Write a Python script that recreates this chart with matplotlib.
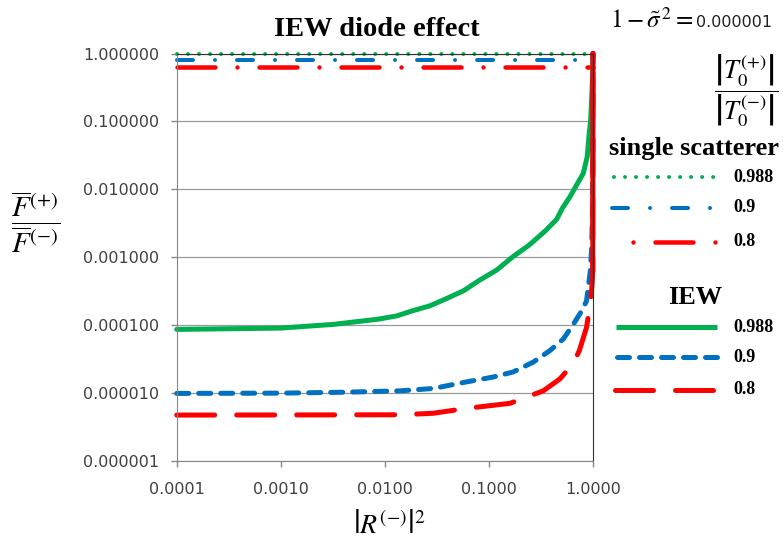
import numpy as np
import matplotlib
matplotlib.use('Agg')
import matplotlib.pyplot as plt
from matplotlib.lines import Line2D

# Axis ticks and labels
r2_ticks = [0.0001, 0.001, 0.01, 0.1, 1.0]
r2_labels = ['0.0001', '0.0010', '0.0100', '0.1000', '1.0000']
ratio_ticks = [1e-6, 1e-5, 1e-4, 1e-3, 1e-2, 1e-1, 1.0]
ratio_labels = ['0.000001', '0.000010', '0.000100', '0.001000',
                '0.010000', '0.100000', '1.000000']
t_ratio_labels = ['0.988', '0.9', '0.8']

# Single scatterer (constant over |R|^2)
ss_r2 = [0.0001, 1.0]
ss_0988 = [0.976, 0.976]
ss_09 = [0.81, 0.81]
ss_08 = [0.64, 0.64]

# IEW curves
iew_r2_0988 = [0.0001, 0.001, 0.0032, 0.0087, 0.013, 0.018, 0.027, 0.038, 0.057,
               0.08, 0.119, 0.168, 0.243, 0.35, 0.447, 0.51, 0.60, 0.695, 0.805,
               0.88, 0.914, 0.95, 0.97, 0.99, 1.0]
iew_0988 = [8.6e-5, 9.0e-5, 1.02e-4, 1.22e-4, 1.36e-4, 1.6e-4, 1.91e-4, 2.4e-4, 3.19e-4,
            4.5e-4, 6.46e-4, 1.0e-3, 1.5e-3, 2.45e-3, 3.6e-3, 5.3e-3, 7.7e-3, 1.15e-2, 1.7e-2,
            3.0e-2, 6.0e-2, 0.105, 0.21, 0.44, 1.0]

iew_r2_09 = [0.0001, 0.001, 0.00398, 0.014, 0.0292, 0.061, 0.110, 0.171, 0.267,
             0.386, 0.518, 0.646, 0.777, 0.867, 0.94, 0.97, 0.99, 1.0]
iew_09 = [9.8e-6, 9.9e-6, 1.02e-5, 1.07e-5, 1.16e-5, 1.45e-5, 1.71e-5, 2.03e-5, 2.84e-5,
          4.2e-5, 6.2e-5, 1.02e-4, 1.6e-4, 2.26e-4, 6.0e-4, 1.3e-3, 5.0e-3, 1.0]

iew_r2_08 = [0.0001, 0.001, 0.014, 0.0292, 0.061, 0.159, 0.333, 0.48, 0.646,
             0.74, 0.867, 0.95, 0.98, 0.995, 1.0]
iew_08 = [4.7e-6, 4.72e-6, 4.75e-6, 5.0e-6, 5.9e-6, 7.0e-6, 1.07e-5, 1.6e-5, 2.7e-5,
          4.2e-5, 9.2e-5, 2.26e-4, 4.0e-4, 6.2e-4, 1.0]

GREEN = '#00B050'
BLUE = '#0070C0'
RED = '#FF0000'
PX = 0.72  # one pixel in points at 100 dpi

plt.rcParams['lines.scale_dashes'] = False
plt.rcParams['mathtext.fontset'] = 'stix'

# line styles (in points)
ss_styles = {
    'g': dict(color=GREEN, lw=4 * PX, ls=(0, (0.01, 11 * PX))),
    'b': dict(color=BLUE, lw=4 * PX, ls=(0, (16 * PX, 22 * PX, 0.01, 22 * PX))),
    'r': dict(color=RED, lw=4.5 * PX, ls=(0, (38 * PX, 22 * PX, 0.01, 22 * PX))),
}
iew_styles = {
    'g': dict(color=GREEN, lw=5 * PX, ls='-'),
    'b': dict(color=BLUE, lw=5 * PX, ls=(0, (12 * PX, 10 * PX))),
    'r': dict(color=RED, lw=5 * PX, ls=(0, (38 * PX, 22 * PX))),
}

W, H = 783, 550
fig = plt.figure(figsize=(W / 100, H / 100), dpi=100)
ax = fig.add_axes([176.7 / W, 1 - 460.7 / H, (593 - 176.7) / W, (460.7 - 53.5) / H])

ax.set_xscale('log')
ax.set_yscale('log')
ax.set_xlim(1e-4, 1.0)
ax.set_ylim(1e-6, 1.0)

ax.grid(axis='y', which='major', color='#9a9a9a', lw=0.9)
ax.set_axisbelow(True)

caps = dict(dash_capstyle='round', solid_capstyle='round', solid_joinstyle='round',
            clip_on=False)
ax.plot(ss_r2, ss_0988, **ss_styles['g'], **caps)
ax.plot(ss_r2, ss_09, **ss_styles['b'], **caps)
ax.plot(ss_r2, ss_08, **ss_styles['r'], **caps)
ax.plot(iew_r2_0988, iew_0988, **iew_styles['g'], **caps)
ax.plot(iew_r2_09, iew_09, **iew_styles['b'], **caps)
ax.plot(iew_r2_08, iew_08, **iew_styles['r'], **caps)
# the steep end at |R|^2 -> 1 shows as a continuous line
ax.plot(iew_r2_08[-2:], iew_08[-2:], color=RED, lw=5 * PX, ls='-', **caps)

ax.set_xticks(r2_ticks, labels=r2_labels)
ax.set_yticks(ratio_ticks, labels=ratio_labels)
ax.minorticks_off()
ax.tick_params(axis='both', direction='out', length=6 * PX, width=1, color='#868686',
               labelsize=11.5, labelcolor='#404040')
ax.tick_params(axis='x', pad=11)
ax.tick_params(axis='y', pad=8)

for side in ['left', 'bottom']:
    ax.spines[side].set_color('#868686')
for side in ['top', 'right']:
    ax.spines[side].set_color('#303030')


def fx(x):
    return x / W


def fy(y):
    return 1 - y / H


serif = 'Liberation Serif'

fig.text(fx(377), fy(30), 'IEW diode effect', ha='center', va='center',
         family=serif, weight='bold', fontsize=20.5)

# axis labels
fig.text(fx(36), fy(222), r'$\dfrac{\overline{F}^{(+)}}{\overline{F}^{(-)}}$',
         ha='center', va='center', fontsize=21)
fig.text(fx(389), fy(525), r'$\left|R^{(-)}\right|^{2}$', ha='center', va='center',
         fontsize=20)

# top-right annotations
fig.text(fx(693), fy(28), r'$1-\tilde{\sigma}^{\,2}=$', ha='right', va='baseline',
         fontsize=18)
fig.text(fx(696), fy(27), '0.000001', ha='left', va='baseline', fontsize=11.5,
         color='#202020')
fig.text(fx(746), fy(91), r'$\dfrac{\left|T_0^{(+)}\right|}{\left|T_0^{(-)}\right|}$',
         ha='center', va='center', fontsize=19)

# hand-placed legend
fig.text(fx(694), fy(148), 'single scatterer', ha='center', va='center',
         family=serif, weight='bold', fontsize=19)
fig.text(fx(695), fy(298), 'IEW', ha='center', va='center',
         family=serif, weight='bold', fontsize=19)

ss_rows = [('g', 614, 714, 177), ('b', 612, 714, 208), ('r', 633, 716, 242)]
for (key, x0, x1, y), lab in zip(ss_rows, t_ratio_labels):
    style = dict(ss_styles[key])
    if key == 'r':
        style['ls'] = (60 * PX, (38 * PX, 22 * PX, 0.01, 22 * PX))
    fig.add_artist(Line2D([fx(x0), fx(x1)], [fy(y), fy(y)], transform=fig.transFigure,
                          dash_capstyle='round', solid_capstyle='round', **style))
    fig.text(fx(733), fy(y), lab, ha='left', va='center', family=serif,
             weight='bold', fontsize=13)

iew_rows = [('g', 616, 717, 327), ('b', 617, 718, 357), ('r', 615, 716, 390)]
for (key, x0, x1, y), lab in zip(iew_rows, t_ratio_labels):
    fig.add_artist(Line2D([fx(x0), fx(x1)], [fy(y), fy(y)], transform=fig.transFigure,
                          dash_capstyle='round', solid_capstyle='butt', **iew_styles[key]))
    fig.text(fx(733), fy(y), lab, ha='left', va='center', family=serif,
             weight='bold', fontsize=13)

fig.savefig('out.png', dpi=100)
